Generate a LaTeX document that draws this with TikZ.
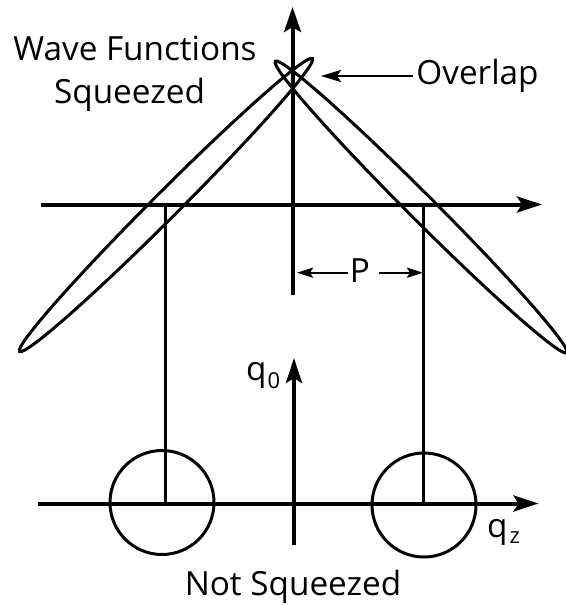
\documentclass[tikz,border=0pt]{standalone}
\usepackage{fontspec}
\setmainfont{Open Sans}
\usetikzlibrary{arrows.meta}
\begin{document}
\begin{tikzpicture}[x=1pt,y=-1pt,
  axis/.style={line width=4pt,-{Stealth[length=25pt,width=16pt,inset=5pt]}},
  thinline/.style={line width=3pt},
  lbl/.style={inner sep=0pt,font=\fontsize{33.3}{40}\selectfont},
  ptr/.style={line width=2.8pt,-{Stealth[length=20pt,width=12pt,inset=4pt]}},
  smallptr/.style={line width=2.4pt,-{Stealth[length=16pt,width=10pt,inset=3pt]}}]
\useasboundingbox (0,0) rectangle (565,605);
% coordinates
\coordinate (uxl) at (41,204.5);
\coordinate (uxr) at (542,204.5);
\coordinate (uyb) at (292.5,295);
\coordinate (uyt) at (292.5,7);
\coordinate (lxl) at (38,503.5);
\coordinate (lxr) at (538.5,503.5);
\coordinate (lyb) at (294,545);
\coordinate (lyt) at (294,358);
\coordinate (ltop) at (165,204.5);
\coordinate (lbot) at (165,503);
\coordinate (rtop) at (423,204.5);
\coordinate (rbot) at (423,503);
% ellipses (squeezed wave functions)
\draw[thinline,rotate around={45:(166,205)}] (166,205) ellipse [x radius=207pt,y radius=13pt];
\draw[thinline,rotate around={-45:(421,207)}] (421,207) ellipse [x radius=206pt,y radius=13pt];
% circles (not squeezed)
\node[draw,thinline,circle,minimum size=104pt,inner sep=0pt] (cl) at (162,502.5) {};
\node[draw,thinline,circle,minimum size=104pt,inner sep=0pt] (cr) at (424,505) {};
% axes
\draw[axis] (uxl) -- (uxr);
\draw[line width=4pt,-{Stealth[length=25pt,width=17pt,inset=5pt]}] (uyb) -- (uyt);
\draw[axis] (lxl) -- (lxr);
\draw[axis] (lyb) -- (lyt);
% connectors
\draw[thinline] (ltop) -- (lbot);
\draw[thinline] (rtop) -- (rbot);
% labels
\node[lbl,anchor=base] (wf) at (135,60) {Wave Functions};
\node[lbl,anchor=base] (sq) at (129.5,103) {Squeezed};
\node[lbl,anchor=base] (ovl) at (477.5,84) {Overlap};
\coordinate (ovtip) at (321,76);
\coordinate (ovstart) at (413,76);
\draw[ptr] (ovstart) -- (ovtip);
\node[lbl,anchor=base] (pn) at (360,282) {P};
\coordinate (pls) at (348,272.7);
\coordinate (plt) at (297,272.7);
\coordinate (prs) at (379,272.7);
\coordinate (prt) at (423,272.7);
\draw[smallptr] (pls) -- (plt);
\draw[smallptr] (prs) -- (prt);
\node[lbl,anchor=base west] (q0) at (246,380) {q\kern1pt\raisebox{-8pt}{\fontsize{22}{22}\selectfont 0}};
\node[lbl,anchor=base west] (qz) at (487,537) {q\kern2pt\raisebox{-6pt}{\fontsize{22}{22}\selectfont z}};
\node[lbl,anchor=base] (ns) at (293,595) {Not Squeezed};
\end{tikzpicture}
\end{document}
